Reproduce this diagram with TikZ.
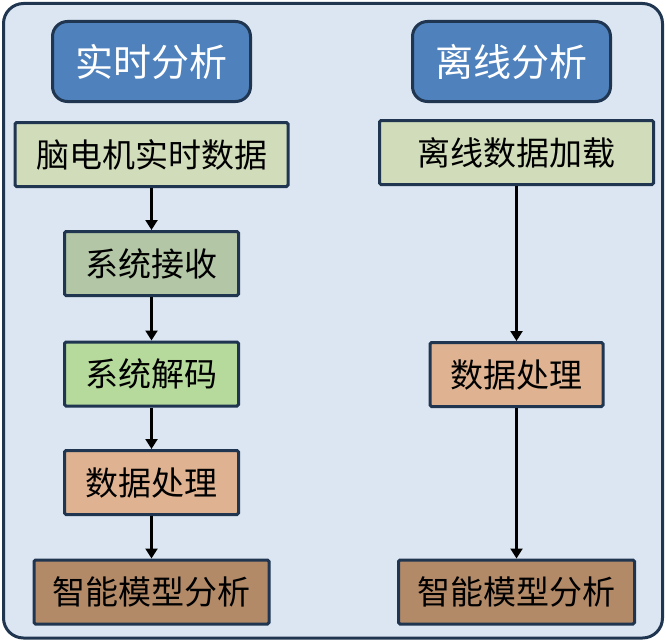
\documentclass[tikz,border=0pt]{standalone}
\usepackage{fontspec}
\setmainfont{Noto Sans CJK SC}
\usetikzlibrary{arrows.meta}

\definecolor{frameblue}{HTML}{DCE6F2}
\definecolor{navy}{HTML}{1F3550}
\definecolor{headblue}{HTML}{4F81BD}
\definecolor{paleolive}{HTML}{D0DCBA}
\definecolor{greygreen}{HTML}{B3C6A6}
\definecolor{lightgreen}{HTML}{B6DA9B}
\definecolor{peach}{HTML}{DFB391}
\definecolor{brown}{HTML}{B38A68}

\begin{document}
\begin{tikzpicture}[
    x=1pt, y=-1pt,
    head/.style={draw=navy, line width=3pt, fill=headblue, rounded corners=15pt,
      minimum width=198pt, minimum height=80pt, inner sep=0pt,
      text=white, font=\fontsize{38}{42}\selectfont},
    stepbox/.style={draw=navy, line width=3pt, rounded corners=1.5pt,
      minimum height=64pt, inner sep=0pt, font=\fontsize{33}{37}\selectfont},
    flow/.style={-{Triangle[length=10pt,width=12pt]}, line width=2.2pt}
  ]
    \useasboundingbox (0,0) rectangle (666,642);
    \draw[draw=navy, line width=3pt, fill=frameblue, rounded corners=20pt]
      (3.5,3.5) rectangle (662.5,638);

    % real-time column
    \node[head] (rtHead) at (151.5,61.5) {实时分析};
    \node[stepbox, fill=paleolive, minimum width=273pt] (rtData) at (151.5,154.5) {脑电机实时数据};
    \node[stepbox, fill=greygreen, minimum width=174pt] (rtRecv) at (151.5,263.5) {系统接收};
    \node[stepbox, fill=lightgreen, minimum width=174pt] (rtDecode) at (151.5,374) {系统解码};
    \node[stepbox, fill=peach, minimum width=174pt] (rtProc) at (151.5,482.5) {数据处理};
    \node[stepbox, fill=brown, minimum width=235pt] (rtModel) at (151.5,592) {智能模型分析};

    % offline column
    \node[head] (offHead) at (511.5,61.5) {离线分析};
    \node[stepbox, fill=paleolive, minimum width=274pt] (offLoad) at (516.5,152.5) {离线数据加载};
    \node[stepbox, fill=peach, minimum width=173pt] (offProc) at (516.5,374.5) {数据处理};
    \node[stepbox, fill=brown, minimum width=236pt] (offModel) at (516.5,592) {智能模型分析};

    \draw[flow] (rtData) -- (rtRecv);
    \draw[flow] (rtRecv) -- (rtDecode);
    \draw[flow] (rtDecode) -- (rtProc);
    \draw[flow] (rtProc) -- (rtModel);
    \draw[flow] (offLoad) -- (offProc);
    \draw[flow] (offProc) -- (offModel);
  \end{tikzpicture}
\end{document}
